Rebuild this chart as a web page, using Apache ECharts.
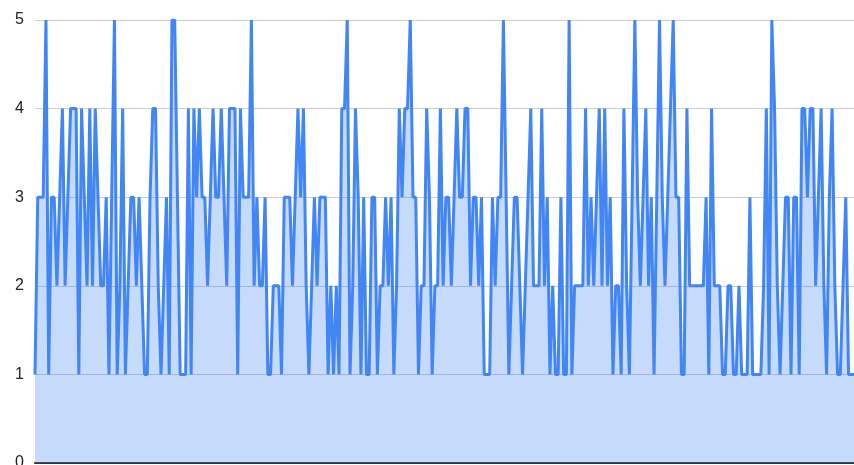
<!DOCTYPE html>
<html>
<head>
<meta charset="utf-8">
<script src="https://cdn.jsdelivr.net/npm/echarts@6/dist/echarts.min.js"></script>
<style>
  html, body { margin: 0; padding: 0; background: #ffffff; }
  #chart { width: 854px; height: 465px; }
</style>
</head>
<body>
<div id="chart"></div>
<script>
// Series values, in order, split into blocks of 50 samples
const valuesA = [1, 3,3,3,5,1,3,3,2,3,4, 2,3,4,4,4,1,4,3,2,4, 2,4,3,2,2,3,1,3,5,1, 2,4,1,2,3,3,2,3,2,1, 1,3,4,4,2,1,2,3,1];
const valuesB = [5,5,3,1,1,1,4,1,4,3, 4,3,3,2,3,4,3,3,4,3, 2,4,4,4,1,4,3,3,3,5, 2,3,2,2,3,1,1,2,2,2, 1,3,3,3,2,3,4,3,4,2];
const valuesC = [1,2,3,2,3,3,3,1,2,1, 2,1,4,4,5,1,2,4,3,1, 3,1,1,3,3,1,2,2,3,2, 3,1,2,4,3,4,4,5,3,3, 1,2,2,4,3,1,2,2,4,2];
const valuesD = [3,3,2,3,4,3,3,4,4,2, 3,3,2,3,1,1,1,3,2,3, 3,5,3,1,2,3,3,2,1,2, 3,4,2,2,2,4,2,3,1,2, 1,1,3,1,1,5,1,2,2,2];
const valuesE = [2,4,2,3,2,3,4,2,4,2, 3,1,2,2,1,4,2,1,3,5, 3,2,3,4,2,3,1,3,5,3, 2,3,4,5,3,3,1,1,4,2, 2,2,2,2,2,3,1,4,2,2];
const valuesF = [2,1,1,2,2,1,1,2,1,1, 1,3,1,1,1,1,2,4,1,5, 4,2,1,2,3,3,1,3,3,1, 4,4,3,4,4,2,3,4,2,1, 3,4,2,1,1,2,3,1,1,1];

// Y-axis tick labels
const yTicks = ['0', '1', '2', '3', '4', '5'];

const values = [].concat(valuesA, valuesB, valuesC, valuesD, valuesE, valuesF);
// One category per sample (x axis carries no labels)
const categories = values.map((_, i) => String(i + 1));

const chart = echarts.init(document.getElementById('chart'), null, { renderer: 'canvas' });

chart.setOption({
  animation: false,
  backgroundColor: '#ffffff',
  grid: {
    left: 35, right: 0, top: 20, bottom: 2,
    containLabel: false,
    outerBoundsMode: 'none'
  },
  xAxis: {
    type: 'category',
    data: categories,
    boundaryGap: false,
    axisLine: { show: true, onZero: true, lineStyle: { color: '#333333', width: 2 } },
    axisTick: { show: false },
    axisLabel: { show: false },
    splitLine: { show: false }
  },
  yAxis: {
    type: 'value',
    min: 0,
    max: 5,
    interval: 1,
    axisLine: { show: false },
    axisTick: { show: false },
    axisLabel: {
      margin: 11,
      color: '#222222',
      fontFamily: 'Liberation Sans, Arial, sans-serif',
      fontSize: 16,
      formatter: (v) => yTicks[Math.round(v)]
    },
    splitLine: { show: true, lineStyle: { color: '#cccccc', width: 1 } }
  },
  series: [{
    type: 'line',
    data: values,
    symbol: 'none',
    showSymbol: false,
    smooth: false,
    lineStyle: { color: '#4285f4', width: 3 },
    itemStyle: { color: '#4285f4' },
    areaStyle: { color: '#4285f4', opacity: 0.3 },
    z: 3
  }]
});
</script>
</body>
</html>
